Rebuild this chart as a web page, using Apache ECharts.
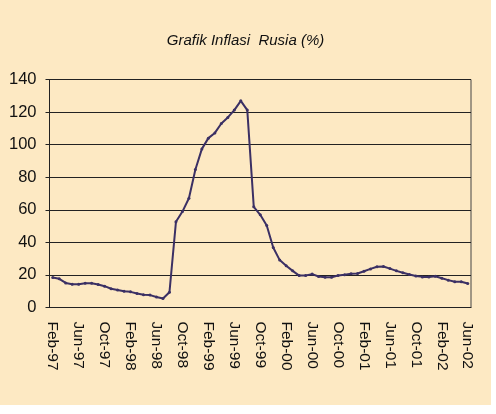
<!DOCTYPE html>
<html>
<head>
<meta charset="utf-8">
<script src="https://cdn.jsdelivr.net/npm/echarts@6/dist/echarts.min.js"></script>
<style>
  html, body { margin: 0; padding: 0; background: #ffffff; }
  #chart { width: 491px; height: 405px; background: #fde9c3; }
</style>
</head>
<body>
<div id="chart"></div>
<script>
// monthly, Feb-97 .. Jun-02
const months = ["Jan", "Feb", "Mar", "Apr", "May", "Jun", "Jul", "Aug", "Sep", "Oct", "Nov", "Dec"];
const categories = [];
for (let k = 1; k < 1 + 65; k++) {
  const y = 97 + Math.floor(k / 12);
  categories.push(months[k % 12] + "-" + String(y % 100).padStart(2, "0"));
}

const inflation = [
  18.4, 17.6, 15.1, 14.3, 14.3, 14.9, 14.9, 14.1, 13.1, 11.5, 10.8, 10.0,
  9.6, 8.6, 7.8, 7.6, 6.5, 5.5, 9.4, 52.6, 58.9, 67.1, 84.7, 97.4,
  104.0, 107.2, 113.0, 116.7, 121.2, 126.9, 121.2, 61.8, 56.9, 50.3, 36.8, 29.1,
  25.6, 22.5, 19.6, 19.6, 20.5, 19.0, 18.6, 18.6, 19.6, 20.1, 20.7, 20.9,
  22.3, 23.7, 25.0, 25.2, 23.9, 22.5, 21.3, 20.3, 19.4, 18.8, 18.8, 19.2,
  18.0, 16.8, 15.8, 15.8, 14.7
];

const yTicks = { min: 0, max: 140, interval: 20 };

const chart = echarts.init(document.getElementById("chart"));
chart.setOption({
  animation: false,
  title: {
    text: "Grafik Inflasi  Rusia (%)",
    left: "center",
    top: 28,
    textStyle: {
      fontFamily: "Liberation Sans",
      fontStyle: "italic",
      fontWeight: "normal",
      fontSize: 15,
      color: "#111"
    }
  },
  grid: {
    left: 49.5,
    right: 20,
    top: 79.5,
    bottom: 97.5,
    show: true,
    borderColor: "#444",
    borderWidth: 1,
    backgroundColor: "transparent"
  },
  xAxis: {
    type: "category",
    data: categories,
    boundaryGap: true,
    axisLine: { lineStyle: { color: "#222", width: 1 } },
    axisTick: { interval: 3, length: 5, lineStyle: { color: "#222" } },
    axisLabel: {
      interval: 3,
      rotate: -90,
      margin: 14,
      fontFamily: "Liberation Sans",
      fontSize: 15.5,
      color: "#111"
    }
  },
  yAxis: {
    type: "value",
    min: yTicks.min,
    max: yTicks.max,
    interval: yTicks.interval,
    axisLine: { show: true, lineStyle: { color: "#222" } },
    axisTick: { show: true, length: 4, lineStyle: { color: "#222" } },
    splitLine: { lineStyle: { color: "#222", width: 1 } },
    axisLabel: {
      margin: 13,
      fontFamily: "Liberation Sans",
      fontSize: 16.5,
      color: "#111"
    }
  },
  series: [
    {
      type: "line",
      data: inflation,
      symbol: "circle",
      symbolSize: 3,
      itemStyle: { color: "#3b3064" },
      lineStyle: { color: "#3b3064", width: 2 }
    }
  ]
});
</script>
</body>
</html>
